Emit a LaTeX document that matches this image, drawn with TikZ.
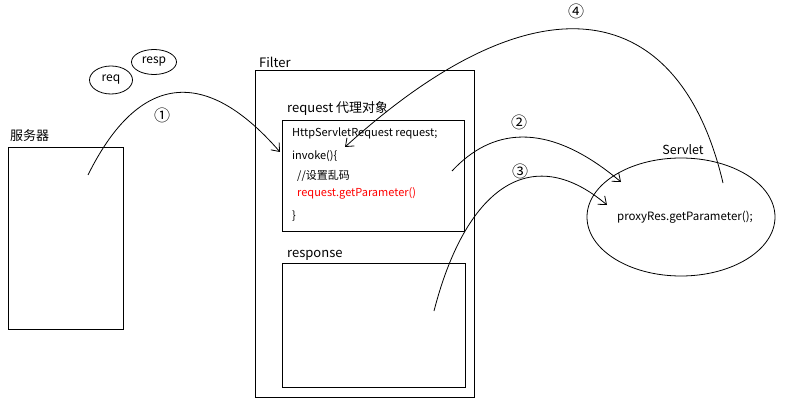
\documentclass[tikz,border=0pt]{standalone}
\usepackage{fontspec}
\setmainfont{Noto Sans CJK SC}
\usetikzlibrary{shapes.geometric, arrows.meta, positioning, calc}

\begin{document}
\begin{tikzpicture}[
  x=1pt, y=-1pt, font=\fontsize{11}{13}\selectfont,
  >={Straight Barb[length=7pt, width=11pt]},
  box/.style={rectangle, draw, line width=1pt, anchor=north west, inner sep=0pt},
  oval/.style={ellipse, draw, line width=0.8pt, inner sep=0pt},
  lbl/.style={inner sep=1pt, anchor=south west, font=\fontsize{13}{15}\selectfont},
  code/.style={inner sep=0pt, anchor=west},
  num/.style={inner sep=0pt, font=\fontsize{16}{18}\selectfont},
  flow/.style={->, line width=0.8pt}]
  \useasboundingbox (0,0) rectangle (787,401);
  % boxes
  \node[box, minimum width=115, minimum height=182] (srv) at (8,147) {};
  \node[box, minimum width=219, minimum height=327] (filter) at (255,70) {};
  \node[box, minimum width=182, minimum height=111] (reqbox) at (282,120) {};
  \node[box, minimum width=183, minimum height=124] (respbox) at (282,263) {};
  \node[oval, minimum width=188, minimum height=118] (servlet) at (681,217) {};
  \node[oval, minimum width=43, minimum height=28, font=\fontsize{12}{14}\selectfont] (req) at (111,80) {req};
  \node[oval, minimum width=45, minimum height=25, font=\fontsize{12}{14}\selectfont] (resp) at (154,62) {resp};
  % labels
  \node[lbl] (srvlbl) at ($(srv.north west)+(1,-4)$) {服务器};
  \node[lbl] (filterlbl) at ($(filter.north west)+(3,-1)$) {Filter};
  \node[lbl] (reqlbl) at ($(reqbox.north west)+(4,-3)$) {request 代理对象};
  \node[lbl] (resplbl) at ($(respbox.north west)+(4,-1)$) {response};
  \node[inner sep=1pt, above=2pt of servlet, xshift=2pt, font=\fontsize{12.5}{14}\selectfont] (servletlbl) {Servlet};
  % code in the proxy box
  \node[code] (l1) at (292,133) {HttpServletRequest request;};
  \node[code] (l2) at (292,156) {invoke()\{};
  \node[code] (l3) at (297,176) {//设置乱码};
  \node[code, text=red] (l4) at (297,193) {request.getParameter()};
  \node[code] (l5) at (292,216) {\}};
  \node[inner sep=0pt, font=\fontsize{11.5}{13}\selectfont] (call) at ($(servlet.center)+(4,0)$) {proxyRes.getParameter();};
  % step numbers
  \node[num] (n1) at (162,115) {①};
  \node[num] (n2) at (519,122) {②};
  \node[num] (n3) at (520,171) {③};
  \node[num] (n4) at (576,11) {④};
  % ends of the curves
  \coordinate (s1) at (88,175);
  \coordinate (t1) at (280,152);
  \coordinate (s2) at (452,171);
  \coordinate (t2) at (621,182);
  \coordinate (s3) at (434,311);
  \coordinate (t3) at (607,205);
  \coordinate (s4) at (723,183);
  \coordinate (t4) at (345,147);
  \draw[flow] (s1) .. controls (135,80) and (200,60) .. (t1);
  \draw[flow] (s2) .. controls (490,130) and (545,118) .. (t2);
  \draw[flow] (s3) .. controls (465,190) and (530,140) .. (t3);
  \draw[flow] (s4) .. controls (680,0) and (540,-30) .. (t4);
\end{tikzpicture}
\end{document}
